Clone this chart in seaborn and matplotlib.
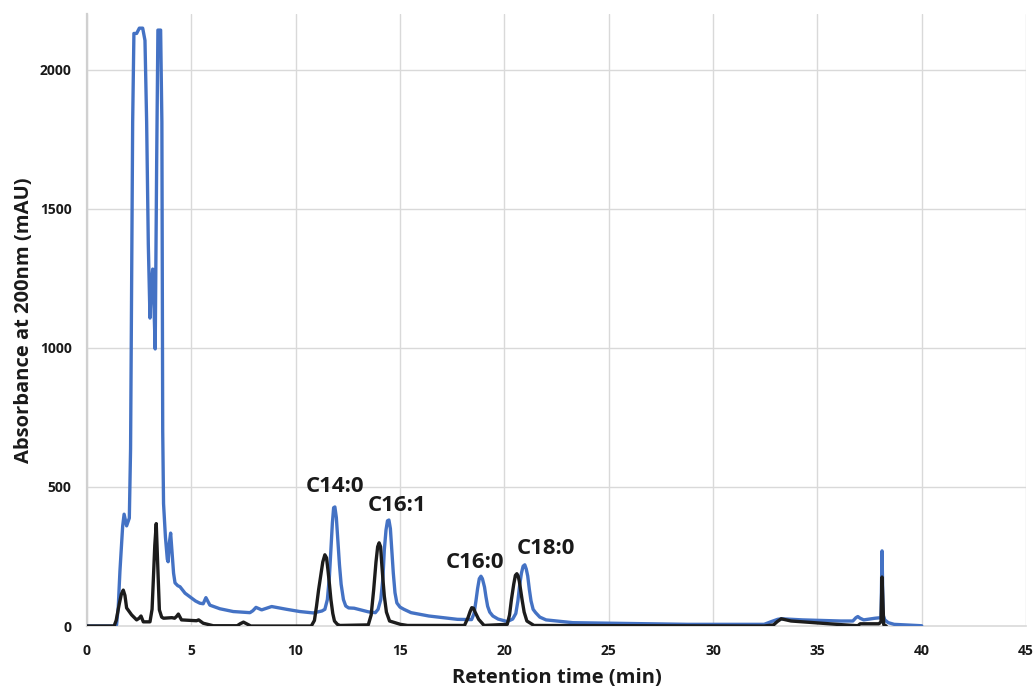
import matplotlib
matplotlib.use("Agg")
import matplotlib.pyplot as plt
import seaborn as sns
import pandas as pd

# Chromatogram traces: retention time (min) and absorbance (mAU)
blue_time = [0.0, 1.30, 1.42, 1.50, 1.58, 1.71, 1.78, 1.90, 2.03, 2.09, 2.14, 2.19, 2.25, 2.38, 2.51,
             2.67, 2.78, 2.86, 2.94, 3.02, 3.08, 3.15, 3.21, 3.27, 3.34, 3.40, 3.53, 3.59, 3.63, 3.67,
             3.76, 3.85, 3.89, 3.95, 4.01, 4.08, 4.15, 4.22, 4.35, 4.46, 4.70, 4.93, 5.20, 5.41, 5.57,
             5.70, 5.89, 6.37, 7.01, 7.81, 7.95, 8.10, 8.37, 8.85, 9.57, 10.20, 10.84, 11.26, 11.40,
             11.52, 11.62, 11.69, 11.76, 11.82, 11.88, 11.95, 12.02, 12.10, 12.18, 12.29, 12.40, 12.54,
             12.80, 13.48, 13.82, 13.95, 14.08, 14.18, 14.25, 14.33, 14.40, 14.47, 14.54, 14.60, 14.68,
             14.76, 14.85, 15.00, 15.19, 15.53, 16.38, 17.75, 18.43, 18.55, 18.64, 18.72, 18.80, 18.88,
             18.95, 19.05, 19.12, 19.20, 19.30, 19.45, 19.70, 20.14, 20.40, 20.55, 20.65, 20.74, 20.82,
             20.90, 20.98, 21.05, 21.12, 21.20, 21.28, 21.38, 21.50, 21.70, 22.00, 23.28, 25.12, 28.79,
             32.45, 32.80, 33.10, 33.27, 34.29, 36.12, 36.70, 36.85, 36.94, 37.05, 37.22, 37.77, 38.05,
             38.10, 38.15, 38.23, 38.40, 38.68, 40.00]
blue_mau = [0, 0, 5, 69, 197, 358, 402, 360, 388, 637, 1223, 1812, 2130, 2130, 2149,
            2149, 2105, 1812, 1371, 1107, 1223, 1283, 1151, 996, 1665, 2142, 2142, 1812, 700, 440,
            320, 240, 231, 300, 334, 260, 190, 155, 145, 141, 118, 105, 90, 82, 80,
            102, 75, 62, 52, 48, 55, 67, 58, 70, 60, 52, 47, 54, 60,
            95, 180, 274, 370, 425, 428, 390, 310, 220, 150, 95, 72, 65,
            64, 51, 48, 60, 95, 170, 274, 345, 378, 381, 350, 280, 190,
            120, 83, 68, 60, 48, 36, 24, 23, 45, 90, 135, 170, 179,
            170, 140, 105, 71, 50, 36, 25, 16, 25, 45, 90, 150, 190,
            215, 220, 205, 180, 131, 90, 60, 48, 32, 22, 12, 10, 6,
            6, 16, 24, 26, 22, 18, 18, 30, 34, 28, 22, 28, 30,
            270, 40, 22, 12, 6, 1]

black_time = [0.0, 1.30, 1.40, 1.55, 1.65, 1.74, 1.82, 1.90, 2.14, 2.38, 2.50, 2.59, 2.70, 3.02, 3.12,
              3.18, 3.25, 3.32, 3.40, 3.47, 3.58, 3.67, 4.07, 4.20, 4.30, 4.38, 4.53, 5.00, 5.25, 5.35,
              5.57, 6.05, 7.20, 7.34, 7.50, 7.65, 7.85, 10.75, 10.90, 11.00, 11.10, 11.20, 11.30, 11.40,
              11.48, 11.55, 11.62, 11.69, 11.78, 11.86, 12.00, 12.12, 13.48, 13.62, 13.74, 13.85, 13.93,
              14.00, 14.07, 14.12, 14.18, 14.25, 14.35, 14.50, 15.02, 15.36, 18.09, 18.26, 18.36, 18.44,
              18.52, 18.60, 18.77, 19.03, 20.14, 20.25, 20.34, 20.45, 20.53, 20.60, 20.66, 20.72, 20.85,
              20.95, 21.08, 21.42, 32.45, 32.90, 33.08, 33.27, 33.74, 36.12, 36.94, 37.05, 37.95, 38.05,
              38.10, 38.18, 38.30]
black_mau = [0, 0, 20, 80, 115, 129, 110, 65, 40, 22, 28, 36, 15, 15, 60,
             165, 290, 368, 200, 58, 32, 28, 30, 28, 35, 43, 22, 20, 19, 22,
             10, 1, 1, 8, 14, 8, 0, 0, 20, 71, 130, 180, 230, 256,
             245, 200, 150, 95, 45, 18, 6, 2, 4, 40, 131, 230, 285,
             299, 285, 230, 170, 107, 50, 18, 6, 2, 2, 30, 52, 66,
             64, 50, 24, 2, 6, 40, 95, 150, 182, 188, 180, 160, 95,
             50, 18, 2, 0, 4, 16, 26, 18, 5, 1, 8, 8, 15,
             176, 5, 0]

peak_names = ["C14:0", "C16:1", "C16:0", "C18:0"]
label_x = [11.88, 14.85, 18.59, 21.99]
label_y = [500, 432, 227, 277]

x_ticks = [0, 5, 10, 15, 20, 25, 30, 35, 40, 45]
y_ticks = [0, 500, 1000, 1500, 2000]

blue_df = pd.DataFrame({"time": blue_time, "mau": blue_mau})
black_df = pd.DataFrame({"time": black_time, "mau": black_mau})

sns.set_style("white")
plt.rcParams["font.family"] = ["Open Sans", "DejaVu Sans"]

fig = plt.figure(figsize=(10.34, 6.88), dpi=100)
ax = fig.add_axes([0.0841, 0.0901, 0.9082, 0.8896])

grid_color = "#d9d9d9"
ax.set_axisbelow(True)
for xt in x_ticks:
    ax.axvline(xt, color=grid_color, lw=1.0, zorder=0)
for yt in y_ticks[1:]:
    ax.axhline(yt, color=grid_color, lw=1.0, zorder=0)

sns.lineplot(data=blue_df, x="time", y="mau", ax=ax, color="#4472c4", lw=2.4,
             estimator=None, sort=False, zorder=3)
sns.lineplot(data=black_df, x="time", y="mau", ax=ax, color="#1c1c1c", lw=2.4,
             estimator=None, sort=False, zorder=4)

for name, lx, ly in zip(peak_names, label_x, label_y):
    ax.text(lx, ly, name, ha="center", va="center", fontsize=16, fontweight="bold",
            color="#1a1a1a", zorder=5)

ax.set_xlim(0, 45)
ax.set_ylim(0, 2200)
ax.set_xticks(x_ticks)
ax.set_yticks(y_ticks)
ax.tick_params(axis="both", length=0, labelsize=10, colors="#1a1a1a")
ax.tick_params(axis="x", pad=13)
ax.tick_params(axis="y", pad=11)
for lab in ax.get_xticklabels() + ax.get_yticklabels():
    lab.set_fontweight("bold")

for side in ["top", "right"]:
    ax.spines[side].set_visible(False)
ax.spines["left"].set_color("#d0d0d0")
ax.spines["left"].set_linewidth(1.6)
ax.spines["bottom"].set_color("#d9d9d9")
ax.spines["bottom"].set_linewidth(1.2)

ax.set_xlabel("Retention time (min)", fontsize=14.5, fontweight="bold", color="#1a1a1a", labelpad=7)
ax.set_ylabel("Absorbance at 200nm (mAU)", fontsize=14.5, fontweight="bold", color="#1a1a1a", labelpad=4)

fig.savefig("out.png", dpi=100)
